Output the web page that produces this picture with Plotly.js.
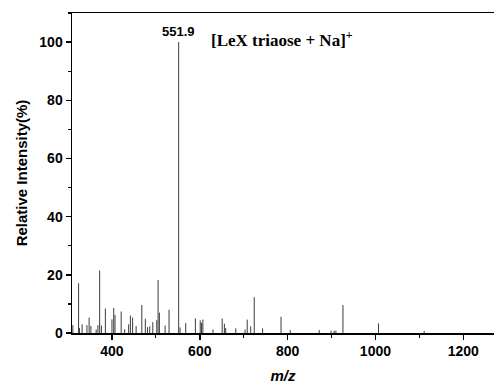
<!DOCTYPE html>
<html>
<head>
<meta charset="utf-8">
<script src="https://cdn.plot.ly/plotly-3.0.1.min.js"></script>
<style>html,body{margin:0;padding:0;background:#fff;}#chart{width:494px;height:389px;}</style>
</head>
<body>
<div id="chart"></div>
<script>
// m/z of each peak
const mzValues = [311, 324, 326, 332, 343, 348, 352, 364, 368, 372, 376, 385, 400, 404, 407, 421, 429, 438, 442, 447, 455, 468, 476, 481, 486, 493, 502, 505, 508, 521, 530, 551.9, 555, 568, 590, 601, 604, 607, 630, 651, 656, 659, 682, 703, 708, 716, 724, 743, 785, 806, 872, 899, 906, 910, 926, 1007, 1111];
// relative intensity (%) of each peak
const intensities = [2.7, 17.1, 1.7, 3.0, 2.7, 5.3, 2.4, 1.2, 2.7, 21.5, 2.6, 8.4, 4.7, 8.6, 6.2, 7.4, 1.3, 3.0, 6.0, 5.3, 2.4, 9.6, 4.9, 2.0, 2.3, 3.7, 4.4, 18.2, 7.0, 2.6, 8.0, 100, 1.9, 3.4, 5.0, 4.3, 3.5, 4.6, 1.2, 5.0, 3.2, 1.7, 1.6, 1.2, 4.6, 2.3, 12.3, 1.6, 5.6, 1.0, 1.0, 0.8, 0.8, 0.8, 9.6, 3.3, 0.7];
const xTickVals = [400, 600, 800, 1000, 1200];
const yTickVals = [0, 20, 40, 60, 80, 100];
const baseLabel = "551.9";
const ionLabel = "[LeX triaose + Na]<sup>+</sup>";

const lx = [], ly = [];
mzValues.forEach((m, i) => { lx.push(m, m, null); ly.push(0, intensities[i], null); });

const traces = [{
  type: 'scatter', mode: 'lines', x: lx, y: ly,
  line: {color: '#3c3c3c', width: 1}, hoverinfo: 'skip', showlegend: false
}];

const tickFont = {family: 'Liberation Sans, Arial, sans-serif', size: 14, color: '#000', weight: 'bold'};

const layout = {
  width: 494, height: 389,
  margin: {l: 72, r: 0, t: 13, b: 56},
  paper_bgcolor: '#fff', plot_bgcolor: '#fff',
  showlegend: false,
  xaxis: {
    range: [309, 1270], tickvals: xTickVals, ticktext: xTickVals.map(String),
    ticks: 'outside', ticklen: 5, tickwidth: 1.5, tickcolor: '#000',
    minor: {dtick: 100, tick0: 300, ticks: 'outside', ticklen: 3, tickwidth: 1.2, tickcolor: '#000'},
    showline: true, linecolor: '#000', linewidth: 1.5, mirror: true,
    showgrid: false, zeroline: false, tickfont: tickFont,
    title: {text: '<i>m/z</i>', font: {family: 'Liberation Sans, Arial, sans-serif', size: 15, color: '#000', weight: 'bold'}, standoff: 12}
  },
  yaxis: {
    range: [0, 110], tickvals: yTickVals, ticktext: yTickVals.map(String),
    ticks: 'outside', ticklen: 5, tickwidth: 1.5, tickcolor: '#000',
    minor: {dtick: 10, tick0: 0, ticks: 'outside', ticklen: 3, tickwidth: 1.2, tickcolor: '#000'},
    showline: true, linecolor: '#000', linewidth: 1.5, mirror: false,
    showgrid: false, zeroline: false, tickfont: tickFont,
    title: {text: 'Relative Intensity(%)', font: {family: 'Liberation Sans, Arial, sans-serif', size: 15, color: '#000', weight: 'bold'}, standoff: 8}
  },
  annotations: [
    {x: 551.9, y: 100, xref: 'x', yref: 'y', text: baseLabel, showarrow: false, yanchor: 'bottom', xanchor: 'center', yshift: 1,
     font: {family: 'Liberation Sans, Arial, sans-serif', size: 13, color: '#000', weight: 'bold'}},
    {x: 620, y: 101, xref: 'x', yref: 'y', text: ionLabel, showarrow: false, xanchor: 'left', yanchor: 'middle',
     font: {family: 'Liberation Serif, Times New Roman, serif', size: 17, color: '#000', weight: 'bold'}}
  ]
};

Plotly.newPlot('chart', traces, layout, {staticPlot: true, displayModeBar: false});
</script>
</body>
</html>
